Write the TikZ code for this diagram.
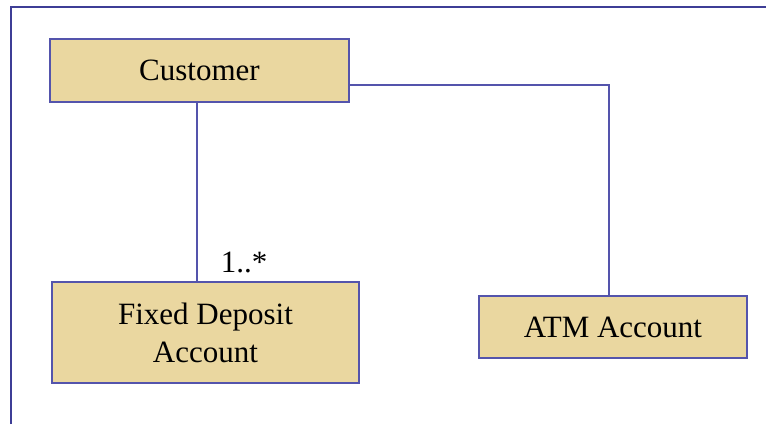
\documentclass[tikz,border=0pt]{standalone}
\usepackage{fontspec}
\setmainfont{Liberation Serif}
\definecolor{umlblue}{RGB}{84,84,172}
\definecolor{framecol}{RGB}{62,62,150}
\definecolor{parch}{RGB}{234,215,160}
\begin{document}
\begin{tikzpicture}[x=1pt,y=-1pt,
  cls/.style={draw=umlblue, line width=1.6pt, fill=parch, align=center, inner sep=0pt,
    font=\fontsize{31}{38}\selectfont},
  conn/.style={draw=umlblue, line width=1.2pt},
  lbl/.style={font=\fontsize{31}{38}\selectfont, inner sep=0pt}]
\useasboundingbox[fill=white] (0,0) rectangle (766,424);
\draw[framecol, line width=1.8pt] (11,424) -- (11,7) -- (766,7);
\node[cls, minimum width=299pt, minimum height=63pt] (cust) at (199.5,70.5) {Customer};
\node[cls, minimum width=307pt, minimum height=101pt] (fd) at (205.5,332.5) {Fixed Deposit\\Account};
\node[cls, minimum width=268pt, minimum height=62pt] (atm) at (613,327) {ATM Account};
\coordinate (vx) at (197,0);
\coordinate (bend) at (609,85);
\draw[conn] (cust.south -| vx) -- (fd.north -| vx);
\draw[conn] (cust.east |- bend) -- (bend) -- (atm.north -| bend);
\node[lbl] (mult) at (244,262) {1..*};
\end{tikzpicture}
\end{document}
